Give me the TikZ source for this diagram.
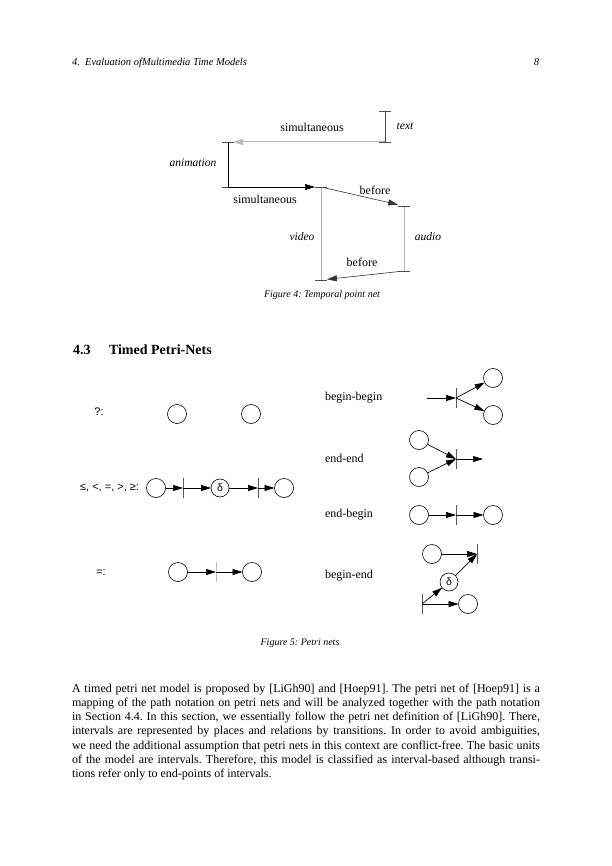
\documentclass[tikz,border=0pt]{standalone}
\usepackage{fontspec}
\setmainfont{Liberation Serif}
\newfontfamily\lsans{Liberation Sans}
\usetikzlibrary{arrows.meta}
\frenchspacing
\begin{document}
\begin{tikzpicture}[x=1pt,y=-1pt,
  every node/.style={inner sep=0pt,outer sep=0pt},
  hdr/.style={font=\fontsize{10.5}{12}\selectfont\itshape},
  lbl/.style={font=\fontsize{12}{14}\selectfont},
  ilbl/.style={font=\fontsize{11.5}{13}\selectfont\itshape},
  slbl/.style={font=\lsans\fontsize{11}{13}\selectfont},
  figcap/.style={font=\fontsize{10}{12}\selectfont\itshape},
  body/.style={font=\fontsize{12}{14}\selectfont,anchor=base west},
  ivl/.style={line width=0.8pt},
  arr/.style={line width=0.7pt,-{Triangle[length=10pt,width=6pt]}},
  place/.style={circle,draw,line width=0.6pt,minimum size=19pt},
  dplace/.style={circle,draw,line width=0.6pt,minimum size=18pt,font=\lsans\fontsize{10.5}{12}\selectfont},
  trans/.style={minimum width=0pt,minimum height=20pt},
  tbar/.style={line width=0.8pt,gray!70!black}]
\useasboundingbox[fill=white] (0,0) rectangle (612,866);

% header
\node[hdr,anchor=base west] (hd) at (72,66) {4.\ \ Evaluation ofMultimedia Time Models};
\node[hdr,anchor=base east] (pg) at (539,66) {8};

% ---------- Figure 4 ----------
\coordinate (txT) at (385,111); \coordinate (txB) at (385,142);
\coordinate (anT) at (228,142); \coordinate (anB) at (228,187);
\coordinate (viT) at (321,187); \coordinate (viB) at (321,280);
\coordinate (auT) at (404,206); \coordinate (auB) at (404,271);
\draw[ivl,gray!60!black] (txT) -- (txB);
\draw[ivl,black] (anT) -- (anB);
\draw[ivl,gray!60] (viT) -- (viB);
\draw[ivl,gray!60] (auT) -- (auB);
\foreach \p in {txT,txB,anT,anB,viT,viB,auT,auB}
  \draw[line width=0.6pt,gray!60!black] ([xshift=-6pt]\p) -- ([xshift=6pt]\p);
\draw[arr,gray!55,line width=1pt,shorten >=5pt] (txB) -- (anT);
\draw[arr,black,shorten >=6pt] (anB) -- (viT);
\draw[arr,gray!40!black,line width=0.6pt,shorten <=4pt,shorten >=6pt] (viT) -- (auT);
\draw[arr,gray!40!black,line width=0.6pt,shorten <=4pt,shorten >=6pt] (auB) -- (viB);
\node[lbl] (s1) at (312,127) {simultaneous};
\node[lbl] (s2) at (265,199) {simultaneous};
\node[lbl] (b1) at (375,190) {before};
\node[lbl] (b2) at (362,262) {before};
\node[ilbl] (ltx) at (405,126) {text};
\node[ilbl] (lan) at (193,163) {animation};
\node[ilbl] (lvi) at (302,237) {video};
\node[ilbl] (lau) at (428,237) {audio};
\node[figcap] (c4) at (322,295) {Figure 4: Temporal point net};

% section heading
\node[font=\fontsize{14}{16}\selectfont\bfseries,anchor=base west] (sn) at (73,354) {4.3};
\node[font=\fontsize{14}{16}\selectfont\bfseries,anchor=base west] (st) at (109,354) {Timed Petri-Nets};

% ---------- Figure 5 ----------
% left column
\node[slbl] (l1) at (99,412) {?:};
\node[place] (q1) at (177,414) {};
\node[place] (q2) at (251,414) {};

\node[slbl,anchor=east] (l2) at (139,488) {≤, <, =, >, ≥:};
\node[place] (p1) at (156,488) {};
\node[trans] (t1) at (183,488) {};
\node[dplace] (d1) at (220,488) {δ};
\node[trans] (t2) at (258,488) {};
\node[place] (p2) at (284,488) {};
\draw[tbar] (t1.north) -- (t1.south);
\draw[tbar] (t2.north) -- (t2.south);
\draw[arr] (p1) -- (t1);
\draw[arr] (t1) -- (d1);
\draw[arr] (d1) -- (t2);
\draw[arr] (t2) -- (p2);

\node[slbl] (l3) at (101,573) {=:};
\node[place] (r1) at (178,572) {};
\node[trans] (t3) at (216,572) {};
\node[place] (r2) at (252,572) {};
\draw[tbar,gray!50] (t3.north) -- (t3.south);
\draw[arr] (r1) -- (t3);
\draw[arr] (t3) -- (r2);

% right column
\node[lbl,anchor=west] (lbb) at (325,398) {begin-begin};
\node[lbl,anchor=west] (lee) at (325,458) {end-end};
\node[lbl,anchor=west] (leb) at (325,515) {end-begin};
\node[lbl,anchor=west] (lbe) at (325,576) {begin-end};

% begin-begin
\coordinate (bbin) at (427,398);
\node[trans] (tbb) at (456,398) {};
\node[place] (bb1) at (493,378) {};
\node[place] (bb2) at (493,415) {};
\draw[tbar] (tbb.north) -- (tbb.south);
\draw[arr] (bbin) -- (tbb);
\draw[arr] (tbb) -- (bb1);
\draw[arr] (tbb) -- (bb2);

% end-end
\node[place] (ee1) at (419,440) {};
\node[place] (ee2) at (419,477) {};
\node[trans] (tee) at (456,459) {};
\coordinate (eeout) at (483,459);
\draw[tbar] (tee.north) -- (tee.south);
\draw[arr] (ee1) -- (tee);
\draw[arr] (ee2) -- (tee);
\draw[arr] (tee) -- (eeout);

% end-begin
\node[place] (eb1) at (419,515) {};
\node[trans] (teb) at (456,515) {};
\node[place] (eb2) at (493,515) {};
\draw[tbar] (teb.north) -- (teb.south);
\draw[arr] (eb1) -- (teb);
\draw[arr] (teb) -- (eb2);

% begin-end
\node[place] (be1) at (432,554) {};
\node[trans] (tbe) at (477,554) {};
\node[dplace] (bed) at (449,582) {δ};
\node[trans] (tbe2) at (422,604) {};
\node[place] (be2) at (468,604) {};
\draw[tbar] (tbe.north) -- (tbe.south);
\draw[tbar] (tbe2.north) -- (tbe2.south);
\draw[arr] (be1) -- (tbe);
\draw[arr] (bed) -- (tbe);
\draw[arr] (tbe2) -- (bed);
\draw[arr] (tbe2) -- (be2);

\node[figcap] (c5) at (300,643) {Figure 5: Petri nets};

% ---------- paragraph ----------
\node[body] (pa1) at (72,692) {\makebox[468pt][s]{A timed petri net model is proposed by [LiGh90] and [Hoep91]. The petri net of [Hoep91] is a}};
\node[body] (pa2) at (72,706.3) {\makebox[468pt][s]{mapping of the path notation on petri nets and will be analyzed together with the path notation}};
\node[body] (pa3) at (72,720.6) {\makebox[468pt][s]{in Section 4.4. In this section, we essentially follow the petri net definition of [LiGh90]. There,}};
\node[body] (pa4) at (72,734.9) {\makebox[468pt][s]{intervals are represented by places and relations by transitions. In order to avoid ambiguities,}};
\node[body] (pa5) at (72,749.2) {\makebox[468pt][s]{we need the additional assumption that petri nets in this context are conflict-free. The basic units}};
\node[body] (pa6) at (72,763.5) {\makebox[468pt][s]{of the model are intervals. Therefore, this model is classified as interval-based although transi-}};
\node[body] (pa7) at (72,777.8) {tions refer only to end-points of intervals.};
\end{tikzpicture}
\end{document}
